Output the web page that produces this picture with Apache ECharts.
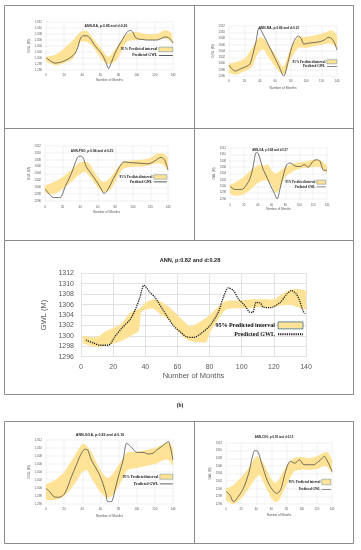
<!DOCTYPE html>
<html><head><meta charset="utf-8">
<script src="https://cdn.jsdelivr.net/npm/echarts@6/dist/echarts.min.js"></script>
<style>html,body{margin:0;padding:0;background:#fff}#c{width:361px;height:550px}</style>
</head><body><div id="c"></div>
<script>
// ---------- DATA ----------
const xTickValues = [0, 20, 40, 60, 80, 100, 120, 140];
const yTickRange = [1296, 1312];

// Panel 1: ANN-KA
const kaMonths = [0,5,10,15,19,24,28,32,35,38,41,45,48,52,56,60,64,67,69,72,76,80,85,89,93,96,98,102,106,111,116,122,127,131,135,138,140];
const kaGWL = [1300.1,1299.0,1298.3,1298.5,1298.9,1299.6,1300.4,1301.5,1303.5,1306.5,1307.4,1307.4,1306.8,1305,1303.3,1302,1300,1297.8,1296.5,1298.5,1301.5,1304,1306.5,1308.5,1309.2,1308.5,1307,1306.3,1306.2,1306,1306,1306,1306.5,1307,1306.8,1305.8,1305];
const kaBandMonths = [0,10,19,30,38,45,52,62,69,78,89,98,111,122,130,137,140];
const kaUpper = [1300.4,1301,1303,1306,1308.7,1309,1306.5,1302.6,1300.4,1303.7,1308,1308.7,1308,1308,1309.2,1308.7,1306];
const kaLower = [1298.8,1297.6,1298.2,1299.9,1305.4,1305.4,1303.7,1299.3,1297.9,1299.3,1305.4,1306,1306,1306,1306.5,1306,1304.3];

// Panel 2: ANN-MA
const maMonths = [0,3,8,15,22,27,31,35,39,43,50,57,64,71,76,81,86,90,94,97,103,110,118,124,129,133,137,140];
const maGWL = [1299.5,1298.5,1297.6,1298.3,1299,1299.8,1303,1307,1311.5,1310,1306.5,1303,1299.5,1296,1300,1305,1308,1308.8,1307.8,1306.2,1306.5,1306.7,1307,1307.6,1308.4,1308,1306.5,1304.3];
const maBandMonths = [0,10,20,30,35,40,45,50,60,70,75,80,90,100,110,120,130,135,140];
const maUpper = [1300,1300.5,1301.5,1305,1307,1308.5,1308,1306.5,1303,1299,1301.5,1305,1308.5,1308.5,1309,1309.5,1310.5,1310.5,1309];
const maLower = [1297,1296.5,1297.5,1299,1302,1304,1304.5,1302.5,1299,1296.5,1298,1301.5,1305,1305,1305.5,1306,1306.5,1306,1305];

// Panel 3: ANN-PSO
const psoMonths = [0,6,10,17,23,30,37,40,43,47,53,59,64,67,70,74,78,82,85,90,95,108,117,122,127,132,136,140];
const psoGWL = [1299.5,1297.7,1297,1297,1300.2,1304,1308.7,1309.1,1308.7,1306,1303.8,1301.6,1299.5,1298.2,1298.7,1300.5,1302.6,1304.5,1306,1307.4,1307.2,1307,1306.8,1307.2,1308,1308.7,1308,1305];
const psoBandMonths = [0,10,20,30,38,45,50,60,67,75,85,90,100,110,120,128,135,140];
const psoUpper = [1300.5,1301.5,1303,1305,1307,1307.5,1307,1303,1301.5,1303,1306.5,1307.5,1307.8,1308,1308.5,1309.8,1309.8,1308.5];
const psoLower = [1298.5,1298,1299.5,1301.5,1303.5,1304.5,1303.5,1300,1298.5,1299.5,1304,1305.5,1306,1306,1306.5,1307,1306.5,1304.8];

// Panel 4: ANN-GA
const gaMonths = [0,7,17,24,29,33,38,41,44,48,54,59,64,68,72,77,82,87,91,96,102,107,113,117,121,126,130,134,137,140];
const gaGWL = [1300,1299,1299,1300.5,1302.5,1305.7,1310.6,1310.2,1308,1305.2,1302.5,1300,1297.8,1296,1299,1303.5,1306.8,1307.3,1306.8,1306.2,1306.2,1306.8,1306,1307,1308.1,1308.3,1307.8,1305.2,1305,1305];
const gaBandMonths = [0,10,20,30,40,50,55,60,65,70,80,90,100,110,120,130,140];
const gaUpper = [1300.5,1301.5,1303,1305,1306.5,1306.5,1306.8,1305,1304,1304.5,1306,1307,1307.5,1307.8,1308.3,1308.2,1306.5];
const gaLower = [1297.5,1297,1297.5,1299,1301,1302,1301.5,1300.5,1298,1298.5,1303,1304.5,1305.5,1305.8,1306,1306,1304];

// Panel 5: ANN (large)
const annMonths = [3,8,12,17,21,26,30.5,33.6,36.7,39.2,43,46,51.2,57.4,61.6,65.8,70,74,80.3,85.5,88.6,91.7,94.8,97.9,102,104.7,106.8,109,111.5,113.5,117.6,123.9,128,131,134,136,138,139.5];
const annGWL = [1299.2,1298.6,1298.2,1298.2,1299.8,1301.7,1303.1,1304.9,1307.4,1309.7,1308.3,1307.4,1304.9,1302,1300.8,1299.8,1299.7,1300.3,1302,1304.6,1307.4,1309.2,1308.7,1307.1,1305.8,1304.6,1304.5,1306.4,1306.3,1305.5,1305.4,1306.4,1308,1308.7,1308,1306.8,1304.9,1304.2];
const annBandMonths = [1,5,10,15,20,25,30,34,36,37.5,40,45,50,55,60,65,68,72,78,80,85,90,95,100,105,110,115,120,125,130,135,140];
const annUpper = [1300,1299.8,1299.8,1300.8,1301.5,1302.3,1304.3,1305,1305.2,1305.5,1306.3,1307,1306.5,1305.5,1304,1302.5,1301.8,1302.3,1303.5,1304,1305.5,1306.7,1306.8,1306.8,1307,1307,1307,1307,1308,1308.8,1309,1308.7];
const annLower = [1298.6,1298.2,1297.8,1298.2,1298.5,1299,1299.8,1300.5,1301,1304.5,1305,1305.2,1304,1303,1301,1299.5,1299,1298.8,1298.8,1300.5,1303,1305,1305.3,1305.3,1305.3,1305.5,1305.5,1305.5,1305.8,1306,1305.5,1305];

// Panel 6: ANN-GOA
const goaMonths = [0,4,10,15,21,28,33,38,43,46,50,55,60,64,66,68,72,74,76,80,85,89,92,95,100,107,113,118,122,127,132,135,137,140];
const goaGWL = [1299.9,1299.1,1297.7,1297.7,1298.8,1302.8,1305.5,1308.2,1309.7,1309.5,1307,1305,1302.8,1300.2,1298.7,1296.6,1296.6,1297.5,1299.5,1303,1307,1311.2,1310.7,1310,1308.9,1308.9,1308.5,1308.7,1309.5,1310.3,1311.2,1311.6,1310.3,1307];
const goaBandMonths = [0,10,20,30,40,45,50,60,68,75,85,90,100,110,120,130,135,140];
const goaUpper = [1301,1302,1304,1307.5,1311,1310.5,1309,1304.5,1302.5,1304,1307.5,1309,1309,1309.5,1310,1311,1311.5,1310];
const goaLower = [1297,1297,1298,1300.5,1304,1304.5,1302.5,1299,1297.5,1298.5,1302.5,1304.5,1305,1305.5,1306,1307,1307,1305.5];

// Panel 7: ANN-CSO
const csoMonths = [0,5,10,16,23,30,35,38,42,47,55,63,67,72,76,80,85,91,97,103,109,116,120,125,130,133,137,140];
const csoGWL = [1299.3,1298.4,1296.6,1297.9,1300.1,1304.1,1308.5,1310,1309.8,1306.7,1301.9,1299.3,1298.8,1299.7,1302.5,1305.4,1307.2,1306.7,1307.6,1306.3,1306.3,1306.3,1306.8,1307.6,1308.5,1307.6,1306,1304.5];
const csoBandMonths = [0,10,20,30,40,45,50,60,65,70,80,90,100,110,120,130,135,140];
const csoUpper = [1300,1301,1303,1305.5,1308.5,1308,1306.5,1302.5,1301.5,1302.5,1306,1308,1308.3,1308,1308.5,1309.5,1309.5,1307.5];
const csoLower = [1297,1296,1297.5,1300,1303,1303.5,1301.5,1297.5,1296.5,1297,1301,1304.5,1305,1305,1305.2,1306,1305.5,1304];

const panelTitles = ['ANN-KA, p:0.85 and d:0.26','ANN-MA, p:0.86 and d:0.21','ANN-PSO, p:0.84 and d:0.25','ANN-GA, p:0.84 and d:0.27','ANN, p:0.82 and d:0.28','ANN-GOA, p:0.83 and d:0.16','ANN-CSO, p:0.91 and d:0.15'];
const bandLabel = '95% Predicted interval';
const lineLabel = 'Predicted GWL';
const xAxisTitle = 'Number of Months';
const yAxisTitle = 'GWL (M)';

// ---------- LAYOUT ----------
const panels = [
  {m:kaMonths, g:kaGWL, bm:kaBandMonths, lo:kaLower, up:kaUpper, grid:{left:46,top:22,width:127,height:48}, comma:true, fs:3, nfs:3.3, tfs:3.4, txy:[106,26.5], xm:4, xg:9, ym:4, yg:12, lg:{right:188,top:47,w:14,h:4.5,gap:1.5,fs:3.7}},
  {m:maMonths, g:maGWL, bm:maBandMonths, lo:maLower, up:maUpper, grid:{left:229,top:26,width:108,height:50}, comma:false, fs:3, nfs:3.3, tfs:3.2, txy:[279,28], xm:4, xg:11, ym:4, yg:13, lg:{right:24,top:59.5,w:10,h:4,gap:1,fs:3.3}},
  {m:psoMonths, g:psoGWL, bm:psoBandMonths, lo:psoLower, up:psoUpper, grid:{left:45,top:146,width:123,height:55}, comma:false, fs:3, nfs:3.3, tfs:3.2, txy:[92,151], xm:4.5, xg:10, ym:4, yg:11, lg:{right:194,top:174.5,w:13,h:4.5,gap:1,fs:3.3}},
  {m:gaMonths, g:gaGWL, bm:gaBandMonths, lo:gaLower, up:gaUpper, grid:{left:230,top:148,width:97,height:51}, comma:false, fs:2.8, nfs:3, tfs:2.8, txy:[270,150], xm:4.5, xg:9, ym:4, yg:11, lg:{right:35,top:180,w:9,h:4,gap:1,fs:3}},
  {m:annMonths, g:annGWL, bm:annBandMonths, lo:annLower, up:annUpper, grid:{left:81,top:273.3,width:225,height:83.4}, comma:false, fs:7, nfs:7.5, tfs:5.6, txy:[190,260], xm:7, xg:15.5, ym:7, yg:22, lg:{right:57,top:321.5,w:25,h:7,gap:2,fs:6}, big:true},
  {m:goaMonths, g:goaGWL, bm:goaBandMonths, lo:goaLower, up:goaUpper, grid:{left:46,top:440,width:127,height:64}, comma:true, fs:3, nfs:3.3, tfs:3.6, txy:[100,435], xm:3.5, xg:11, ym:4, yg:12, lg:{right:188,top:474,w:13,h:5,gap:2.5,fs:3.6}},
  {m:csoMonths, g:csoGWL, bm:csoBandMonths, lo:csoLower, up:csoUpper, grid:{left:226,top:443,width:106,height:61}, comma:false, fs:2.8, nfs:3, tfs:2.9, txy:[274,437], xm:3.5, xg:10, ym:4, yg:9.5, lg:{right:30,top:479,w:9,h:5.5,gap:3,fs:3.2}}
];

const BAND = '#FEE396';
const GRIDC = '#dcdcdc';
const LABC = '#595959';

function bandRenderer(p){
  return function(params, api){
    if (params.dataIndex !== 0) return null;
    const upPts = p.bm.map((m,k)=>api.coord([m, p.up[k]]));
    const loPts = p.bm.map((m,k)=>api.coord([m, p.lo[k]])).reverse();
    // repeat corner points so the smoothed outline keeps sharp ends
    const pts = [upPts[0]].concat(upPts, [upPts[upPts.length-1]], [loPts[0]], loPts, [loPts[loPts.length-1]]);
    return {type:'polygon', silent:true, shape:{points:pts, smooth:0.25}, style:{fill:BAND}};
  };
}

const grids=[], xAxes=[], yAxes=[], series=[], legends=[], graphics=[];
const nameMap = {};
panels.forEach((p,i)=>{
  grids.push(Object.assign({containLabel:false}, p.grid));
  xAxes.push({gridIndex:i, type:'value', min:xTickValues[0], max:xTickValues[xTickValues.length-1], interval:20,
    axisLine:{show:false}, axisTick:{show:false},
    splitLine:{show:true, lineStyle:{color:GRIDC, width:p.big?0.8:0.4}},
    axisLabel:{fontSize:p.fs, color:LABC, margin:p.xm, fontFamily:'Liberation Sans'},
    name:xAxisTitle, nameLocation:'middle', nameGap:p.xg,
    nameTextStyle:{fontSize:p.nfs, color:LABC, fontFamily:'Liberation Sans'}});
  yAxes.push({gridIndex:i, type:'value', min:yTickRange[0], max:yTickRange[1], interval:2,
    axisLine:{show:false}, axisTick:{show:false},
    splitLine:{show:true, lineStyle:{color:GRIDC, width:p.big?0.8:0.4}},
    axisLabel:{fontSize:p.fs, color:LABC, margin:p.ym, fontFamily:'Liberation Sans',
      formatter: v => p.comma ? String(v).replace(/^(\d)(\d{3})$/,'$1,$2') : String(v)},
    name:yAxisTitle, nameLocation:'middle', nameGap:p.yg, nameRotate:90,
    nameTextStyle:{fontSize:p.nfs, color:LABC, fontFamily:'Liberation Sans'}});
  const bandName='band'+i, lineName='line'+i;
  nameMap[bandName]=bandLabel; nameMap[lineName]=lineLabel;
  series.push({type:'custom', name:bandName, xAxisIndex:i, yAxisIndex:i, silent:true,
    renderItem:bandRenderer(p), itemStyle:{color:BAND}, encode:{x:0, y:[1,2]},
    data:p.bm.map((m,k)=>[m, p.lo[k], p.up[k]]), z:1});
  const lc = p.big ? '#1a1a1a' : '#3b3b3b';
  series.push({type:'line', name:lineName, xAxisIndex:i, yAxisIndex:i, symbol:'none', smooth:0.3, silent:true,
    color:lc, itemStyle:{color:lc},
    lineStyle:p.big?{color:lc, width:1.3, type:[1.2,1]}:{color:lc, width:0.7},
    data:p.m.map((m,k)=>[m,p.g[k]]), z:3});
  legends.push({orient:'vertical', align:'right', right:p.lg.right, top:p.lg.top, padding:0,
    itemWidth:p.lg.w, itemHeight:p.lg.h, itemGap:p.lg.gap, selectedMode:false,
    formatter: n => nameMap[n],
    textStyle:{fontSize:p.lg.fs, fontWeight:'bold', fontFamily:'Liberation Serif', color:'#111', padding:[0,p.big?-2:-3.5,0,0]},
    data:[{name:bandName, icon:'rect', itemStyle:{color:BAND, borderColor:'#3f7186', borderWidth:p.big?0.8:0.4}},
          p.big ? {name:lineName, itemStyle:{opacity:0}}
                : {name:lineName, icon:'path://M0,0H16V1H0Z', itemStyle:{color:lc}}]});
  graphics.push({type:'text', x:p.txy[0], y:p.txy[1], z:10,
    style:{text:panelTitles[i], fontSize:p.tfs, fontWeight:'bold', fontFamily:'Liberation Sans', fill:'#262626', align:'center', verticalAlign:'middle'}});
});

// Panel frame lines
const frameC = '#8a8a8a';
const frames = [
  [4,5,353,5],[4,5,4,240],[353,5,353,240],[194,5,194,240],[4,128,353,128],[4,240,353,240],
  [4,240,4,394],[353,240,353,394],[4,394,353,394],
  [4,421,353,421],[4,421,4,543],[353,421,353,543],[194,421,194,543],[4,543,353,543]
];
frames.forEach(f=>graphics.push({type:'line', z:10, shape:{x1:f[0]+0.5,y1:f[1]+0.5,x2:f[2]+0.5,y2:f[3]+0.5}, style:{stroke:frameC, lineWidth:1}}));
graphics.push({type:'text', x:180, y:406, z:10, style:{text:'(b)', fontSize:5.5, fontWeight:'bold', fontFamily:'Liberation Serif', fill:'#222', align:'center', verticalAlign:'middle'}});

const chart = echarts.init(document.getElementById('c'), null, {renderer:'canvas'});
chart.setOption({
  animation:false, backgroundColor:'#fff',
  grid:grids, xAxis:xAxes, yAxis:yAxes, series:series, legend:legends, graphic:graphics
});
</script></body></html>
